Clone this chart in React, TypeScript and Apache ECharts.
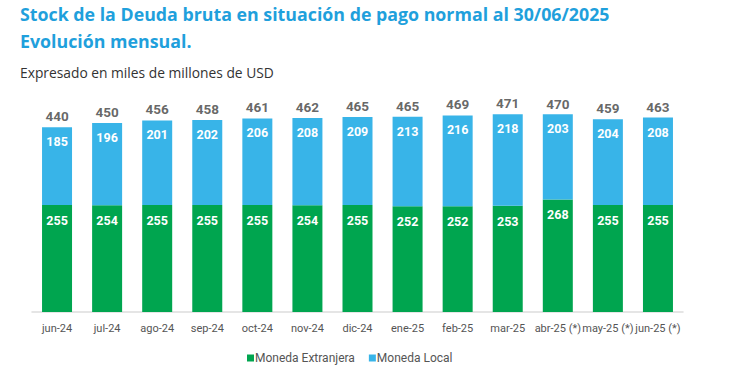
import React, { useEffect, useRef } from "react";
import * as echarts from "echarts";

const categories = [
  "jun-24", "jul-24", "ago-24", "sep-24", "oct-24", "nov-24", "dic-24",
  "ene-25", "feb-25", "mar-25", "abr-25 (*)", "may-25 (*)", "jun-25 (*)",
];
const monedaExtranjera = [255, 254, 255, 255, 255, 254, 255, 252, 252, 253, 268, 255, 255];
const monedaLocal = [185, 196, 201, 202, 206, 208, 209, 213, 216, 218, 203, 204, 208];
const totals = [440, 450, 456, 458, 461, 462, 465, 465, 469, 471, 470, 459, 463];

const GREEN = "#00a54f";
const BLUE = "#38b4e8";
const NUM_FONT = "Roboto, 'Noto Sans', sans-serif";

export default function App() {
  const ref = useRef<HTMLDivElement>(null);
  useEffect(() => {
    document.body.style.margin = "0";
    if (!ref.current) return;
    const chart = echarts.init(ref.current, null, { renderer: "svg" });
    chart.setOption({
      animation: false,
      backgroundColor: "#ffffff",
      title: [
        {
          text: "Stock de la Deuda bruta en situación de pago normal al 30/06/2025\nEvolución mensual.",
          left: 20,
          top: 0,
          padding: 0,
          textStyle: {
            color: "#1fa0dc",
            fontSize: 17.8,
            fontWeight: "bold",
            fontFamily: "'Open Sans', sans-serif",
            lineHeight: 27,
          },
        },
        {
          text: "Expresado en miles de millones de USD",
          left: 20,
          top: 65,
          padding: 0,
          textStyle: {
            color: "#333333",
            fontSize: 13.8,
            fontWeight: "normal",
            fontFamily: "'Open Sans', sans-serif",
          },
        },
      ],
      legend: {
        data: ["Moneda Extranjera", "Moneda Local"],
        bottom: 1,
        left: 242,
        itemWidth: 7,
        itemHeight: 7,
        itemGap: 14,
        icon: "rect",
        textStyle: { color: "#555555", fontSize: 12, fontFamily: NUM_FONT, padding: [0, 0, 0, -4] },
      },
      grid: { left: 32, right: 47, top: 102, bottom: 58 },
      xAxis: {
        type: "category",
        data: categories,
        axisTick: { show: false },
        axisLine: { lineStyle: { color: "#dddddd", width: 1.5 } },
        axisLabel: { color: "#555555", fontSize: 11, fontFamily: NUM_FONT, margin: 11, interval: 0 },
      },
      yAxis: {
        type: "value",
        min: 0,
        max: 500,
        show: false,
        splitLine: { show: false },
      },
      series: [
        {
          name: "Moneda Extranjera",
          type: "bar",
          stack: "total",
          data: monedaExtranjera,
          barWidth: 30,
          itemStyle: { color: GREEN },
          label: {
            show: true,
            position: "insideTop",
            distance: 9,
            color: "#ffffff",
            fontWeight: "bold",
            fontSize: 12.5,
            fontFamily: NUM_FONT,
          },
        },
        {
          name: "Moneda Local",
          type: "bar",
          stack: "total",
          data: monedaLocal,
          barWidth: 30,
          itemStyle: { color: BLUE },
          label: {
            show: true,
            position: "insideTop",
            distance: 8,
            color: "#ffffff",
            fontWeight: "bold",
            fontSize: 12.5,
            fontFamily: NUM_FONT,
          },
        },
        {
          name: "Total",
          type: "scatter",
          data: totals,
          symbolSize: 0,
          silent: true,
          label: {
            show: true,
            position: "top",
            distance: 4,
            color: "#404040",
            fontWeight: "bold",
            fontSize: 13.5,
            fontFamily: NUM_FONT,
          },
        },
      ],
    });
    return () => chart.dispose();
  }, []);
  return <div ref={ref} style={{ width: 730, height: 370 }} />;
}
